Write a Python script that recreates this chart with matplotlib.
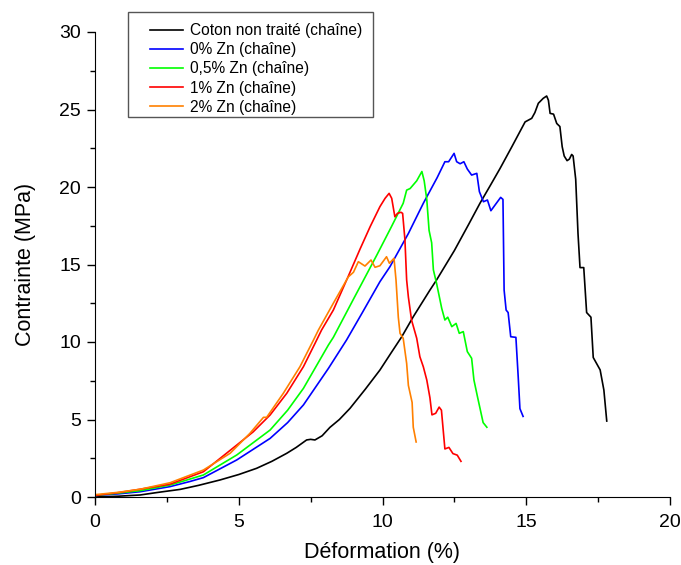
import matplotlib
matplotlib.use('Agg')
import matplotlib.pyplot as plt
from matplotlib.ticker import MultipleLocator
from matplotlib.patches import Rectangle

plt.rcParams['font.family'] = ['Liberation Sans', 'DejaVu Sans']

# Coton non traité (chaîne)
coton_x = [0, 0.8, 1.57, 2.2, 2.96, 3.6, 4.35, 5.0, 5.62, 6.15, 6.67, 7.0, 7.36, 7.5, 7.65,
           7.9, 8.17, 8.5, 8.87, 9.4, 9.91, 10.3, 10.67, 11.07, 11.65, 11.88, 12.5, 13.0,
           13.39, 13.75, 14.09, 14.5, 14.96, 15.19, 15.3, 15.42, 15.59, 15.71, 15.77, 15.83,
           15.95, 16.06, 16.17, 16.25, 16.32, 16.42, 16.5, 16.58, 16.63, 16.72, 16.8, 16.87,
           17.0, 17.1, 17.25, 17.33, 17.45, 17.57, 17.7, 17.8]
coton_y = [0, 0.05, 0.13, 0.3, 0.49, 0.75, 1.1, 1.45, 1.85, 2.3, 2.82, 3.2, 3.68, 3.72, 3.68,
           3.95, 4.49, 5.0, 5.72, 6.95, 8.19, 9.3, 10.34, 11.63, 13.35, 14.0, 15.9, 17.6,
           18.95, 20.1, 21.2, 22.6, 24.2, 24.43, 24.8, 25.4, 25.72, 25.87, 25.6, 24.75,
           24.7, 24.1, 23.9, 22.6, 22.0, 21.7, 21.8, 22.1, 22.0, 20.5, 17.0, 14.8,
           14.8, 11.9, 11.6, 9.0, 8.6, 8.2, 6.9, 4.9]

# 0% Zn (chaîne)
zn0_x = [0, 0.8, 1.57, 2.61, 3.3, 3.77, 4.93, 6.09, 6.7, 7.25, 8.12, 8.75, 9.3, 9.91, 10.26,
         10.9, 11.42, 11.9, 12.17, 12.3, 12.49, 12.58, 12.7, 12.83, 12.95, 13.1, 13.28, 13.37,
         13.51, 13.65, 13.77, 14.11, 14.19, 14.23, 14.3, 14.37, 14.46, 14.64, 14.72, 14.78,
         14.89]
zn0_y = [0.1, 0.2, 0.34, 0.67, 1.0, 1.25, 2.39, 3.78, 4.8, 5.94, 8.3, 10.13, 11.9, 13.89, 14.86,
         17.0, 18.95, 20.6, 21.63, 21.63, 22.17, 21.63, 21.5, 21.63, 21.16, 20.77, 20.88, 19.7,
         19.05, 19.16, 18.47, 19.33, 19.2, 13.35, 12.06, 11.9, 10.34, 10.3, 7.76, 5.7,
         5.2]

# 0,5% Zn (chaîne)
zn05_x = [0, 0.8, 1.57, 2.61, 3.77, 4.93, 6.09, 6.7, 7.25, 8.12, 8.29, 9.0, 9.8, 10.3, 10.72,
          10.84, 10.96, 11.19, 11.37, 11.45, 11.54, 11.62, 11.71, 11.77, 11.88, 12.06, 12.17,
          12.27, 12.41, 12.56, 12.67, 12.81, 12.95, 13.1, 13.18, 13.3, 13.5, 13.63]
zn05_y = [0.1, 0.25, 0.41, 0.77, 1.42, 2.71, 4.32, 5.6, 7.01, 9.81, 10.3, 12.8, 15.6, 17.4, 18.95,
          19.8, 19.9, 20.4, 21.0, 20.4, 19.2, 17.2, 16.4, 14.65, 13.79, 12.17, 11.42,
          11.6, 10.99, 11.2, 10.56, 10.67, 9.38, 8.95, 7.55, 6.5, 4.8, 4.5]

# 1% Zn (chaîne)
zn1_x = [0, 0.8, 1.57, 2.61, 3.77, 4.93, 5.5, 6.09, 6.67, 7.25, 7.65, 7.88, 8.29, 8.8, 9.22,
         9.57, 9.91, 10.09, 10.23, 10.32, 10.43, 10.52, 10.64, 10.7, 10.78, 10.84, 10.9, 11.01,
         11.19, 11.3, 11.42, 11.54, 11.65, 11.72, 11.85, 11.97, 12.05, 12.17, 12.31, 12.45,
         12.6, 12.73]
zn1_y = [0.1, 0.28, 0.5, 0.83, 1.63, 3.35, 4.2, 5.29, 6.69, 8.41, 9.9, 10.77, 12.06, 14.2, 16.0,
         17.44, 18.73, 19.27, 19.59, 19.27, 18.08, 18.3, 18.37, 18.3, 16.6, 14.0, 12.9, 11.42,
         10.24, 9.05, 8.4, 7.55, 6.4, 5.3, 5.4, 5.8, 5.6, 3.1, 3.2, 2.8,
         2.7, 2.3]

# 2% Zn (chaîne)
zn2_x = [0, 0.8, 1.57, 2.61, 3.77, 4.7, 5.39, 5.86, 5.97, 6.55, 7.13, 7.6, 7.77, 8.29, 8.81,
         8.99, 9.16, 9.39, 9.6, 9.74, 9.91, 10.14, 10.24, 10.4, 10.47, 10.55, 10.61, 10.72,
         10.84, 10.9, 11.03, 11.07, 11.17]
zn2_y = [0.15, 0.3, 0.5, 0.92, 1.74, 2.82, 4.11, 5.14, 5.14, 6.69, 8.41, 10.13, 10.77, 12.5, 14.2,
         14.5, 15.18, 14.9, 15.29, 14.82, 14.92, 15.5, 15.08, 15.4, 14.0, 11.6, 10.56, 10.24,
         8.62, 7.2, 6.1, 4.5, 3.55]

series = [
    (coton_x, coton_y, 'black', 'Coton non traité (chaîne)'),
    (zn0_x, zn0_y, '#0000ff', '0% Zn (chaîne)'),
    (zn05_x, zn05_y, '#00ff00', '0,5% Zn (chaîne)'),
    (zn1_x, zn1_y, '#ff0000', '1% Zn (chaîne)'),
    (zn2_x, zn2_y, '#ff8000', '2% Zn (chaîne)'),
]

W, H = 681, 565
fig = plt.figure(figsize=(W / 100, H / 100), dpi=100)
ax = fig.add_axes([95 / W, 68 / H, 575 / W, 465 / H])

for x, y, c, lab in series:
    ax.plot(x, y, color=c, lw=1.2, label=lab)

ax.set_xlim(0, 20)
ax.set_ylim(0, 30)
ax.xaxis.set_major_locator(MultipleLocator(5))
ax.xaxis.set_minor_locator(MultipleLocator(2.5))
ax.yaxis.set_major_locator(MultipleLocator(5))
ax.yaxis.set_minor_locator(MultipleLocator(2.5))
ax.spines['top'].set_visible(False)
ax.spines['right'].set_visible(False)
ax.tick_params(which='major', direction='out', length=6, width=1, labelsize=14)
ax.tick_params(which='minor', direction='out', length=3.5, width=1)
ax.tick_params(axis='x', which='major', pad=6.5)
ax.tick_params(axis='y', which='major', pad=4)
ax.set_xlabel('Déformation (%)', fontsize=15.5, labelpad=8)
ax.set_ylabel('Contrainte (MPa)', fontsize=15.5, labelpad=17)

# legend text + handles without frame, frame drawn separately
leg = ax.legend(loc='upper left', bbox_to_anchor=(150 / W, 1 - 23 / H),
                bbox_transform=fig.transFigure, borderaxespad=0, borderpad=0,
                fontsize=11.2, frameon=False, handlelength=2.1, labelspacing=0.27,
                handletextpad=0.45)
fig.patches.append(Rectangle((128 / W, 1 - 117 / H), 245 / W, 105 / H,
                             transform=fig.transFigure, fill=False,
                             edgecolor='#555555', linewidth=1.0))

fig.savefig('out.png', dpi=100)
